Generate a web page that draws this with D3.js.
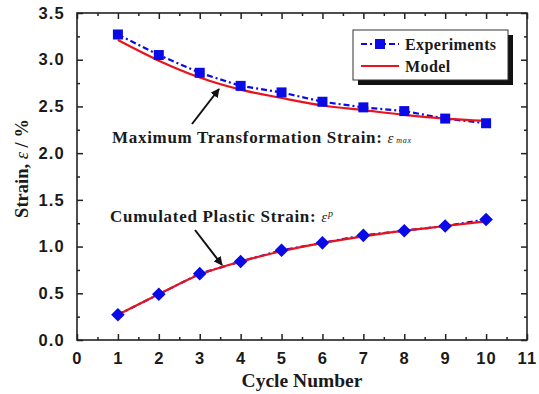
<!DOCTYPE html>
<html>
<head>
<meta charset="utf-8">
<script src="https://cdn.jsdelivr.net/npm/d3@7"></script>
<style>
  html, body { margin: 0; padding: 0; background: #fff; }
  svg { display: block; }
  .tick-label { font-family: "Liberation Sans", Arial, sans-serif; font-weight: bold; font-size: 16.5px; letter-spacing: 1.2px; fill: #1a1a1a; }
  .serif-b { font-family: "Liberation Serif", "Times New Roman", serif; font-weight: bold; fill: #1a1a1a; }
  .greek { font-family: "Liberation Serif", "Times New Roman", serif; font-style: italic; font-weight: normal; }
</style>
</head>
<body>
<svg id="chart" width="539" height="394"></svg>
<script>
// Cycle numbers
const cycles = [1, 2, 3, 4, 5, 6, 7, 8, 9, 10];

// Maximum transformation strain (%)
const maxStrainExp   = [3.27, 3.05, 2.86, 2.72, 2.65, 2.55, 2.49, 2.45, 2.37, 2.32];
const maxStrainModel = [3.21, 2.99, 2.81, 2.68, 2.59, 2.51, 2.46, 2.41, 2.37, 2.345];

// Cumulated plastic strain (%)
const plasticExp   = [0.27, 0.49, 0.71, 0.84, 0.96, 1.04, 1.12, 1.17, 1.22, 1.29];
const plasticModel = [0.27, 0.49, 0.70, 0.84, 0.95, 1.04, 1.11, 1.17, 1.22, 1.27];

// Axis ticks
const xTicks = [0, 1, 2, 3, 4, 5, 6, 7, 8, 9, 10, 11];
const yTicks = [0.0, 0.5, 1.0, 1.5, 2.0, 2.5, 3.0, 3.5];

const W = 539, H = 394;
const margin = { left: 77, right: 12, top: 13, bottom: 54 };
const x = d3.scaleLinear().domain([0, 11]).range([margin.left, W - margin.right]);
const y = d3.scaleLinear().domain([0, 3.5]).range([H - margin.bottom, margin.top]);

const svg = d3.select("#chart");
const BLUE = "#0a0ae6", RED = "#e8141c";

// Tick marks on all four sides, pointing inward
const xMinor = d3.range(0, 11.01, 0.5).filter(v => v % 1 !== 0);
const yMinor = d3.range(0, 3.51, 0.25).filter(v => Math.abs(v * 2 - Math.round(v * 2)) > 1e-6);

function addAxis(axisGen, transform, cls) {
  const g = svg.append("g").attr("transform", transform).call(axisGen);
  g.select(".domain").remove();
  g.selectAll("line").attr("stroke", "#222").attr("stroke-width", 1.5);
  g.selectAll("text").attr("class", cls || "tick-label");
  return g;
}

const bottomMajor = d3.axisBottom(x).tickValues(xTicks).tickSize(-6).tickPadding(12).tickFormat(d3.format("d"));
addAxis(bottomMajor, `translate(0,${y(0)})`);
addAxis(d3.axisBottom(x).tickValues(xMinor).tickSize(-3).tickFormat(""), `translate(0,${y(0)})`);
addAxis(d3.axisTop(x).tickValues(xTicks).tickSize(-6).tickFormat(""), `translate(0,${y(3.5)})`);
addAxis(d3.axisTop(x).tickValues(xMinor).tickSize(-3).tickFormat(""), `translate(0,${y(3.5)})`);

const leftMajor = d3.axisLeft(y).tickValues(yTicks).tickSize(-6).tickPadding(12).tickFormat(d3.format(".1f"));
addAxis(leftMajor, `translate(${x(0)},0)`);
addAxis(d3.axisLeft(y).tickValues(yMinor).tickSize(-3).tickFormat(""), `translate(${x(0)},0)`);
addAxis(d3.axisRight(y).tickValues(yTicks).tickSize(-6).tickFormat(""), `translate(${x(11)},0)`);
addAxis(d3.axisRight(y).tickValues(yMinor).tickSize(-3).tickFormat(""), `translate(${x(11)},0)`);

// Plot frame
svg.append("rect")
  .attr("x", x(0)).attr("y", y(3.5))
  .attr("width", x(11) - x(0)).attr("height", y(0) - y(3.5))
  .attr("fill", "none").attr("stroke", "#222").attr("stroke-width", 1.6);

// Series
const dashLine = d3.line().x((d, i) => x(cycles[i])).y(d => y(d));
const smoothLine = d3.line().x((d, i) => x(cycles[i])).y(d => y(d)).curve(d3.curveMonotoneX);

[maxStrainExp, plasticExp].forEach(s => {
  svg.append("path").datum(s).attr("d", dashLine)
    .attr("fill", "none").attr("stroke", BLUE).attr("stroke-width", 2.2)
    .attr("stroke-dasharray", "6,3,2,3");
});

[maxStrainModel, plasticModel].forEach(s => {
  svg.append("path").datum(s).attr("d", smoothLine)
    .attr("fill", "none").attr("stroke", RED).attr("stroke-width", 2.2);
});

// Markers: squares for max strain, diamonds for plastic strain
const sq = 10;
svg.append("g").selectAll("rect").data(maxStrainExp).join("rect")
  .attr("x", (d, i) => x(cycles[i]) - sq / 2)
  .attr("y", d => y(d) - sq / 2)
  .attr("width", sq).attr("height", sq)
  .attr("fill", BLUE);

const dm = 6.8;
svg.append("g").selectAll("path").data(plasticExp).join("path")
  .attr("d", (d, i) => {
    const cx = x(cycles[i]), cy = y(d);
    return `M${cx},${cy - dm}L${cx + dm},${cy}L${cx},${cy + dm}L${cx - dm},${cy}Z`;
  })
  .attr("fill", BLUE);

// Annotations with arrows
svg.append("defs").append("marker")
  .attr("id", "arrowhead").attr("viewBox", "0 0 10 10")
  .attr("refX", 9).attr("refY", 5)
  .attr("markerWidth", 4.5).attr("markerHeight", 4.5)
  .attr("markerUnits", "strokeWidth")
  .attr("orient", "auto")
  .append("path").attr("d", "M0,0L10,5L0,10Z").attr("fill", "#111");

svg.append("line")
  .attr("x1", 192).attr("y1", 124).attr("x2", 219).attr("y2", 89)
  .attr("stroke", "#111").attr("stroke-width", 2).attr("marker-end", "url(#arrowhead)");
svg.append("line")
  .attr("x1", 195).attr("y1", 230).attr("x2", 222).attr("y2", 265)
  .attr("stroke", "#111").attr("stroke-width", 2).attr("marker-end", "url(#arrowhead)");

const t1 = svg.append("text").attr("class", "serif-b")
  .attr("x", 112).attr("y", 143).attr("font-size", 17).attr("letter-spacing", 0.7);
t1.append("tspan").text("Maximum Transformation Strain: ");
t1.append("tspan").attr("class", "greek").attr("font-size", 15).text("ε");
t1.append("tspan").attr("class", "greek").attr("font-size", 8).attr("dx", 2).text("max");

const t2 = svg.append("text").attr("class", "serif-b")
  .attr("x", 110).attr("y", 222).attr("font-size", 17).attr("letter-spacing", 0.7);
t2.append("tspan").text("Cumulated Plastic Strain: ");
t2.append("tspan").attr("class", "greek").attr("font-size", 15).text("ε");
t2.append("tspan").attr("class", "greek").attr("font-size", 10).attr("dy", -5).text("p");

// Axis titles
svg.append("text").attr("class", "serif-b")
  .attr("x", (x(0) + x(11)) / 2).attr("y", 387)
  .attr("text-anchor", "middle").attr("font-size", 19.5)
  .text("Cycle Number");

const yt = svg.append("text").attr("class", "serif-b")
  .attr("transform", `translate(28,${(y(0) + y(3.5)) / 2 - 8}) rotate(-90)`)
  .attr("text-anchor", "middle").attr("font-size", 18.5);
yt.append("tspan").text("Strain, ");
yt.append("tspan").attr("class", "greek").text("ε");
yt.append("tspan").text(" / %");

// Legend with drop shadow
const lg = svg.append("g");
const lx = 353, ly = 30, lw = 155, lh = 50;
lg.append("rect").attr("x", lx + 5).attr("y", ly + 5).attr("width", lw).attr("height", lh).attr("fill", "#111");
lg.append("rect").attr("x", lx).attr("y", ly).attr("width", lw).attr("height", lh)
  .attr("fill", "#fff").attr("stroke", "#333").attr("stroke-width", 1);

const legendItems = [
  { label: "Experiments", row: 0 },
  { label: "Model", row: 1 }
];
legendItems.forEach(it => {
  const cy = ly + 14 + it.row * 22;
  if (it.row === 0) {
    lg.append("line").attr("x1", lx + 8).attr("x2", lx + 46).attr("y1", cy).attr("y2", cy)
      .attr("stroke", BLUE).attr("stroke-width", 2.2).attr("stroke-dasharray", "6,3,2,3");
    lg.append("rect").attr("x", lx + 27 - sq / 2).attr("y", cy - sq / 2).attr("width", sq).attr("height", sq).attr("fill", BLUE);
  } else {
    lg.append("line").attr("x1", lx + 8).attr("x2", lx + 46).attr("y1", cy).attr("y2", cy)
      .attr("stroke", RED).attr("stroke-width", 2.2);
  }
  lg.append("text").attr("class", "serif-b").attr("x", lx + 52).attr("y", cy + 5.5)
    .attr("font-size", 16).attr("letter-spacing", 0.4).text(it.label);
});
</script>
</body>
</html>
